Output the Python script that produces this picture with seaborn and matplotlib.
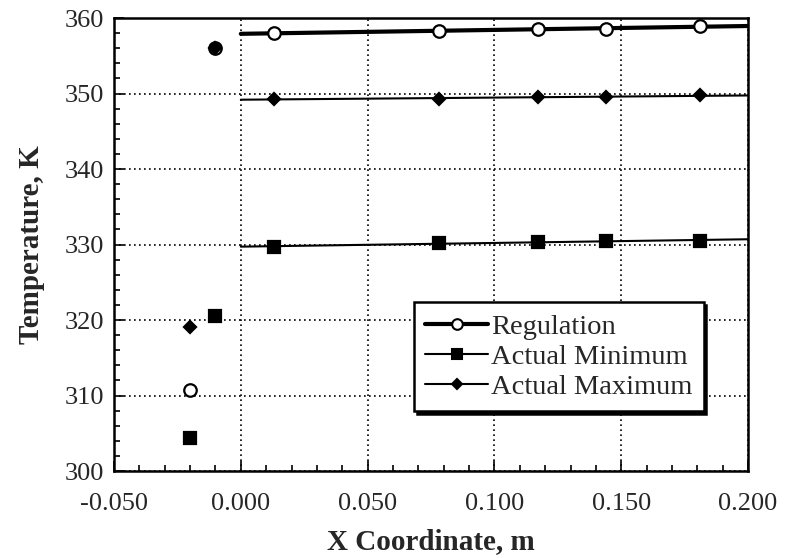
import numpy as np
import pandas as pd
import matplotlib
matplotlib.use("Agg")
import matplotlib.pyplot as plt
from matplotlib.lines import Line2D
from matplotlib.ticker import MultipleLocator, FormatStrFormatter
import seaborn as sns

# Measurement positions along the part (m)
x_pos = [-0.020, -0.010, 0.013, 0.078, 0.117, 0.144, 0.181]

# Temperatures (K) at each position
regulation = [310.7, 356.0, 358.0, 358.3, 358.5, 358.6, 358.9]
actual_min = [304.4, 320.5, 329.7, 330.2, 330.3, 330.5, 330.5]
actual_max = [319.1, 356.0, 349.3, 349.3, 349.5, 349.5, 349.8]

series_names = ["Regulation", "Actual Minimum", "Actual Maximum"]
x_ticks = [-0.050, 0.000, 0.050, 0.100, 0.150, 0.200]
y_ticks = [300, 310, 320, 330, 340, 350, 360]

sns.set_style("ticks")
plt.rcParams["font.family"] = ["Liberation Serif", "DejaVu Serif"]

fig = plt.figure(figsize=(7.93, 5.58), dpi=100)
ax = fig.add_axes([0.1438, 0.1559, 0.7995, 0.8118])

df = pd.DataFrame({"x": x_pos, "Regulation": regulation,
                   "Actual Minimum": actual_min, "Actual Maximum": actual_max})

styles = {
    "Regulation": dict(lw=3.0, marker="o", ms=9, mfc="white", zorder=3),
    "Actual Minimum": dict(lw=1.5, marker="s", ms=8, mfc="black", zorder=4),
    "Actual Maximum": dict(lw=1.5, marker="D", ms=6.5, mfc="black", zorder=5),
}

# Straight-line trend over the positions inside the part (x >= 0)
inside = df[df["x"] >= 0]
x_fit = np.array([0.0, 0.2])
for name in series_names:
    st = styles[name]
    slope, icpt = np.polyfit(inside["x"], inside[name], 1)
    fit = pd.DataFrame({"x": x_fit, "y": slope * x_fit + icpt})
    sns.lineplot(data=fit, x="x", y="y", ax=ax, color="black",
                 linewidth=st["lw"], zorder=st["zorder"])
    ax.plot(df["x"], df[name], linestyle="none", marker=st["marker"],
            markersize=st["ms"], markerfacecolor=st["mfc"],
            markeredgecolor="black", markeredgewidth=1.6,
            zorder=st["zorder"] + 3)

ax.set_xlim(-0.05, 0.2)
ax.set_ylim(300, 360)
ax.set_xticks(x_ticks)
ax.set_yticks(y_ticks)
ax.xaxis.set_major_formatter(FormatStrFormatter("%.3f"))
ax.xaxis.set_minor_locator(MultipleLocator(0.01))
ax.yaxis.set_minor_locator(MultipleLocator(2))
ax.tick_params(which="both", direction="in", top=False, right=False,
               color="black", width=1.2)
ax.tick_params(which="major", length=7, labelsize=19)
ax.tick_params(axis="x", which="major", pad=16)
ax.tick_params(axis="y", which="major", pad=7)
ax.tick_params(which="minor", length=4)

ax.grid(True, which="major", color="black", linestyle=(0, (1, 2)),
        linewidth=1.2)
ax.set_axisbelow(True)
for s in ax.spines.values():
    s.set_visible(True)
    s.set_color("black")
    s.set_linewidth(1.8)

ax.set_xlabel("X Coordinate, m", fontsize=21, fontweight="bold", labelpad=9)
ax.set_ylabel("Temperature, K", fontsize=21, fontweight="bold", labelpad=14)

handles = []
for name in series_names:
    st = styles[name]
    handles.append(Line2D([], [], color="black", linewidth=st["lw"],
                          marker=st["marker"], markersize=st["ms"] * 0.85,
                          markerfacecolor=st["mfc"], markeredgecolor="black",
                          markeredgewidth=1.5))
leg = ax.legend(handles, series_names, loc="upper left",
                bbox_to_anchor=(0.473, 0.372), fontsize=20.5,
                frameon=True, fancybox=False, edgecolor="black",
                framealpha=1, handlelength=2.2, handletextpad=0.1,
                labelspacing=0.14, borderpad=0.4, borderaxespad=0,
                shadow={"color": "black", "alpha": 1})
leg.get_frame().set_linewidth(1.8)
leg.set_zorder(10)

fig.savefig("out.png", dpi=100)
